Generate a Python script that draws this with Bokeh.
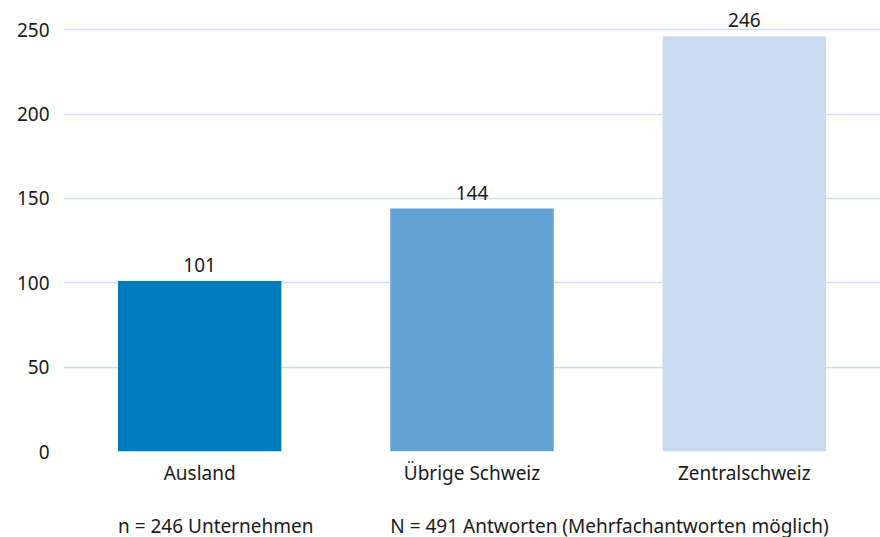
from bokeh.plotting import figure
from bokeh.models import ColumnDataSource, Range1d, FactorRange
from bokeh.layouts import column
from bokeh.embed import file_html
from bokeh.resources import INLINE

categories = ["Ausland", "Übrige Schweiz", "Zentralschweiz"]
values = [101, 144, 246]
colors = ["#007bbc", "#65a2d4", "#c7daef"]
value_labels = ["101", "144", "246"]
y_ticks = [0, 50, 100, 150, 200, 250]
note_texts = ["n = 246 Unternehmen", "N = 491 Antworten (Mehrfachantworten möglich)"]
note_x = [0.2, 1.2]

FONT = "Noto Sans"
FS = "19px"
TXT = "#1a1a1a"

src = ColumnDataSource(dict(cat=categories, val=values, col=colors, lab=value_labels))

xr = FactorRange(*categories, range_padding=0, factor_padding=0)
p = figure(x_range=xr, y_range=Range1d(0, 267.3),
           width=880, height=495, output_backend="svg", toolbar_location=None,
           min_border_left=63, min_border_right=0, min_border_top=0, min_border_bottom=44)
p.vbar(x="cat", top="val", width=0.6, color="col", source=src, line_color=None)
p.text(x="cat", y="val", text="lab", source=src, text_align="center",
       text_baseline="alphabetic", y_offset=-16, text_font_size=FS,
       text_color=TXT, text_font={"value": FONT})

p.outline_line_color = None
p.xgrid.grid_line_color = None
p.ygrid.grid_line_color = "#cddff1"
p.ygrid.grid_line_width = 1.5
p.yaxis.ticker = y_ticks
for ax in (p.xaxis[0], p.yaxis[0]):
    ax.axis_line_color = None
    ax.major_tick_line_color = None
    ax.minor_tick_line_color = None
    ax.major_tick_out = 0
    ax.major_tick_in = 0
    ax.major_label_text_font = FONT
    ax.major_label_text_font_size = FS
    ax.major_label_text_color = TXT
p.yaxis.major_label_standoff = 14
p.xaxis.major_label_standoff = 8

nsrc = ColumnDataSource(dict(x=note_x, y=[12, 12], t=note_texts))
p2 = figure(x_range=xr, y_range=Range1d(0, 42), width=880, height=42,
            output_backend="svg", toolbar_location=None,
            min_border_left=63, min_border_right=0, min_border_top=0, min_border_bottom=0)
p2.axis.visible = False
p2.grid.visible = False
p2.outline_line_color = None
p2.text(x="x", y="y", text="t", source=nsrc, text_align="left", text_baseline="alphabetic",
        text_font_size=FS, text_color=TXT, text_font={"value": FONT})

open("out.html", "w").write(file_html(column(p, p2, spacing=0), INLINE))
